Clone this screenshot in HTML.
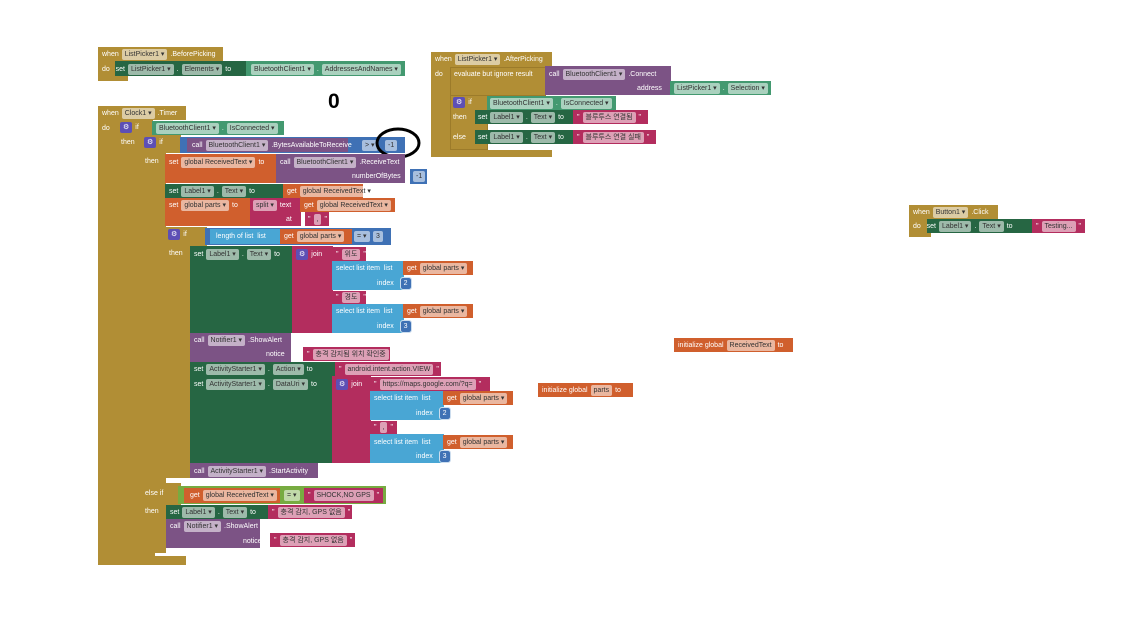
<!DOCTYPE html>
<html><head><meta charset="utf-8"><style>
body{margin:0;width:1146px;height:617px;background:#fff;position:relative;overflow:hidden;font-family:"Liberation Sans","Noto Sans CJK KR",sans-serif}
.r{position:absolute;box-sizing:border-box}
.t{position:absolute;display:flex;align-items:center;gap:3px;height:14px;font-size:7px;color:#fff;white-space:nowrap;font-family:"Liberation Sans","Noto Sans CJK KR",sans-serif}
.c{background:rgba(255,255,255,.55);color:#333;padding:1px 3px;border-radius:2px;line-height:9px}
.G{background:#b18e35}.S{background:#266643}.P{background:#439970}.O{background:#d05f2d}.U{background:#7c5385}.M{background:#b32d5e}.B{background:#49a6d4}.N{background:#3f71b5}.L{background:#77ab41}
</style></head><body>
<!-- BeforePicking -->
<div class="r G" style="left:98px;top:47px;width:125px;height:14px"></div>
<div class="r G" style="left:98px;top:61px;width:20px;height:20px"></div>
<div class="r G" style="left:98px;top:76px;width:30px;height:5px"></div>
<div class="t" style="left:102px;top:47px">when <span class="c">ListPicker1 ▾</span> .BeforePicking</div>
<div class="r S" style="left:115px;top:61px;width:131px;height:15px"></div>
<div class="r P" style="left:246px;top:61px;width:159px;height:15px"></div>
<div class="t" style="left:102px;top:62px">do&nbsp;&nbsp; set <span class="c">ListPicker1 ▾</span> . <span class="c">Elements ▾</span> to</div>
<div class="t" style="left:251px;top:62px"><span class="c">BluetoothClient1 ▾</span> . <span class="c">AddressesAndNames ▾</span></div>

<div class="r" style="left:328px;top:90px;font:bold 21px 'Liberation Sans',sans-serif">0</div>

<!-- Clock1.Timer -->
<div class="r G" style="left:98px;top:106px;width:88px;height:14px"></div>
<div class="r G" style="left:98px;top:120px;width:20px;height:445px"></div>
<div class="r G" style="left:98px;top:556px;width:88px;height:9px"></div>
<div class="t" style="left:102px;top:106px">when <span class="c">Clock1 ▾</span> .Timer</div>
<div class="t" style="left:102px;top:121px">do</div>
<!-- if1 -->
<div class="r G" style="left:117px;top:120px;width:36px;height:15px"></div>
<div class="r G" style="left:117px;top:135px;width:24px;height:422px"></div>
<div class="r G" style="left:117px;top:549px;width:38px;height:8px"></div>
<div class="t" style="left:120px;top:120px"><span class="c" style="background:#5d4fb5;color:#fff">⚙</span> if</div>
<div class="t" style="left:121px;top:135px">then</div>
<div class="r P" style="left:152px;top:121px;width:132px;height:14px"></div>
<div class="t" style="left:156px;top:121px"><span class="c">BluetoothClient1 ▾</span> . <span class="c">IsConnected ▾</span></div>
<!-- if2 -->
<div class="r G" style="left:141px;top:135px;width:40px;height:18px"></div>
<div class="r G" style="left:141px;top:153px;width:25px;height:400px"></div>
<div class="r G" style="left:141px;top:483px;width:40px;height:22px"></div>
<div class="r G" style="left:141px;top:545px;width:14px;height:8px"></div>
<div class="t" style="left:144px;top:135px"><span class="c" style="background:#5d4fb5;color:#fff">⚙</span> if</div>
<div class="t" style="left:145px;top:154px">then</div>
<div class="r N" style="left:180px;top:137px;width:225px;height:16px"></div>
<div class="r U" style="left:187px;top:138px;width:161px;height:14px"></div>
<div class="t" style="left:192px;top:138px">call <span class="c">BluetoothClient1 ▾</span> .BytesAvailableToReceive</div>
<div class="t" style="left:362px;top:138px"><span class="c">&gt; ▾</span></div>
<div class="t" style="left:385px;top:138px"><span class="c">-1</span></div>
<svg class="r" style="left:374px;top:126px" width="50" height="34"><ellipse cx="24" cy="17" rx="21" ry="14" fill="none" stroke="#000" stroke-width="3"/></svg>
<!-- set global ReceivedText -->
<div class="r O" style="left:165px;top:154px;width:112px;height:29px"></div>
<div class="r U" style="left:276px;top:154px;width:129px;height:29px"></div>
<div class="t" style="left:169px;top:155px">set <span class="c">global ReceivedText ▾</span> to</div>
<div class="t" style="left:280px;top:155px">call <span class="c">BluetoothClient1 ▾</span> .ReceiveText</div>
<div class="t" style="left:352px;top:169px">numberOfBytes</div>
<div class="r N" style="left:410px;top:169px;width:17px;height:15px"></div>
<div class="t" style="left:413px;top:169px"><span class="c">-1</span></div>
<!-- set Label1 -->
<div class="r S" style="left:165px;top:184px;width:118px;height:14px"></div>
<div class="r O" style="left:283px;top:184px;width:80px;height:14px"></div>
<div class="t" style="left:169px;top:184px">set <span class="c">Label1 ▾</span> . <span class="c">Text ▾</span> to</div>
<div class="t" style="left:287px;top:184px">get <span class="c">global ReceivedText ▾</span></div>
<!-- set global parts -->
<div class="r O" style="left:165px;top:198px;width:86px;height:28px"></div>
<div class="r M" style="left:250px;top:198px;width:51px;height:28px"></div>
<div class="r O" style="left:300px;top:198px;width:95px;height:14px"></div>
<div class="r M" style="left:305px;top:212px;width:24px;height:14px"></div>
<div class="t" style="left:169px;top:198px">set <span class="c">global parts ▾</span> to</div>
<div class="t" style="left:253px;top:198px"><span class="c">split ▾</span> text</div>
<div class="t" style="left:304px;top:198px">get <span class="c">global ReceivedText ▾</span></div>
<div class="t" style="left:286px;top:212px">at</div>
<div class="t" style="left:308px;top:212px">" <span class="c">,</span> "</div>
<!-- if3 -->
<div class="r G" style="left:165px;top:227px;width:42px;height:19px"></div>
<div class="r G" style="left:165px;top:246px;width:26px;height:232px"></div>
<div class="t" style="left:168px;top:227px"><span class="c" style="background:#5d4fb5;color:#fff">⚙</span> if</div>
<div class="t" style="left:169px;top:246px">then</div>
<div class="r N" style="left:205px;top:228px;width:186px;height:17px"></div>
<div class="r B" style="left:210px;top:229px;width:72px;height:15px"></div>
<div class="r O" style="left:280px;top:229px;width:72px;height:15px"></div>
<div class="t" style="left:216px;top:229px">length of list &nbsp;list</div>
<div class="t" style="left:284px;top:229px">get <span class="c">global parts ▾</span></div>
<div class="t" style="left:354px;top:229px"><span class="c">= ▾</span></div>
<div class="t" style="left:373px;top:229px"><span class="c">3</span></div>
<!-- set Label1 join -->
<div class="r S" style="left:190px;top:246px;width:103px;height:87px"></div>
<div class="r M" style="left:292px;top:246px;width:41px;height:87px"></div>
<div class="t" style="left:194px;top:247px">set <span class="c">Label1 ▾</span> . <span class="c">Text ▾</span> to</div>
<div class="t" style="left:296px;top:247px"><span class="c" style="background:#5d4fb5;color:#fff">⚙</span> join</div>
<div class="r M" style="left:332px;top:247px;width:34px;height:14px"></div>
<div class="t" style="left:336px;top:247px">" <span class="c">위도</span> "</div>
<div class="r B" style="left:332px;top:261px;width:72px;height:29px"></div>
<div class="r O" style="left:403px;top:261px;width:70px;height:14px"></div>
<div class="t" style="left:336px;top:261px">select list item &nbsp;list</div>
<div class="t" style="left:407px;top:261px">get <span class="c">global parts ▾</span></div>
<div class="t" style="left:377px;top:276px">index &nbsp;<span class="c" style="background:#3f71b5;color:#fff;outline:1px solid #cde">2</span></div>
<div class="r M" style="left:332px;top:291px;width:34px;height:13px"></div>
<div class="t" style="left:336px;top:290px">" <span class="c">경도</span> "</div>
<div class="r B" style="left:332px;top:304px;width:72px;height:29px"></div>
<div class="r O" style="left:403px;top:304px;width:70px;height:14px"></div>
<div class="t" style="left:336px;top:304px">select list item &nbsp;list</div>
<div class="t" style="left:407px;top:304px">get <span class="c">global parts ▾</span></div>
<div class="t" style="left:377px;top:319px">index &nbsp;<span class="c" style="background:#3f71b5;color:#fff;outline:1px solid #cde">3</span></div>
<!-- Notifier -->
<div class="r U" style="left:190px;top:333px;width:101px;height:29px"></div>
<div class="t" style="left:194px;top:333px">call <span class="c">Notifier1 ▾</span> .ShowAlert</div>
<div class="t" style="left:266px;top:347px">notice</div>
<div class="r M" style="left:303px;top:347px;width:87px;height:14px"></div>
<div class="t" style="left:307px;top:347px">" <span class="c">충격 감지됨 위치 확인중</span> "</div>
<!-- Action -->
<div class="r S" style="left:190px;top:362px;width:146px;height:14px"></div>
<div class="r M" style="left:335px;top:362px;width:106px;height:14px"></div>
<div class="t" style="left:194px;top:362px">set <span class="c">ActivityStarter1 ▾</span> . <span class="c">Action ▾</span> to</div>
<div class="t" style="left:339px;top:362px">" <span class="c">android.intent.action.VIEW</span> "</div>
<!-- DataUri -->
<div class="r S" style="left:190px;top:376px;width:143px;height:87px"></div>
<div class="r M" style="left:332px;top:376px;width:39px;height:87px"></div>
<div class="t" style="left:194px;top:377px">set <span class="c">ActivityStarter1 ▾</span> . <span class="c">DataUri ▾</span> to</div>
<div class="t" style="left:336px;top:377px"><span class="c" style="background:#5d4fb5;color:#fff">⚙</span> join</div>
<div class="r M" style="left:370px;top:377px;width:120px;height:14px"></div>
<div class="t" style="left:374px;top:377px">" <span class="c">https://maps.google.com/?q=</span> "</div>
<div class="r B" style="left:370px;top:391px;width:74px;height:29px"></div>
<div class="r O" style="left:443px;top:391px;width:70px;height:14px"></div>
<div class="t" style="left:374px;top:391px">select list item &nbsp;list</div>
<div class="t" style="left:447px;top:391px">get <span class="c">global parts ▾</span></div>
<div class="t" style="left:416px;top:406px">index &nbsp;<span class="c" style="background:#3f71b5;color:#fff;outline:1px solid #cde">2</span></div>
<div class="r M" style="left:370px;top:421px;width:27px;height:13px"></div>
<div class="t" style="left:374px;top:420px">" <span class="c">,</span> "</div>
<div class="r B" style="left:370px;top:434px;width:74px;height:29px"></div>
<div class="r O" style="left:443px;top:435px;width:70px;height:14px"></div>
<div class="t" style="left:374px;top:435px">select list item &nbsp;list</div>
<div class="t" style="left:447px;top:435px">get <span class="c">global parts ▾</span></div>
<div class="t" style="left:416px;top:449px">index &nbsp;<span class="c" style="background:#3f71b5;color:#fff;outline:1px solid #cde">3</span></div>
<div class="r U" style="left:190px;top:463px;width:128px;height:15px"></div>
<div class="t" style="left:194px;top:464px">call <span class="c">ActivityStarter1 ▾</span> .StartActivity</div>
<!-- else if -->
<div class="t" style="left:145px;top:486px">else if</div>
<div class="t" style="left:145px;top:504px">then</div>
<div class="r L" style="left:178px;top:486px;width:208px;height:18px"></div>
<div class="r O" style="left:184px;top:488px;width:96px;height:15px"></div>
<div class="r M" style="left:304px;top:488px;width:79px;height:15px"></div>
<div class="t" style="left:190px;top:488px">get <span class="c">global ReceivedText ▾</span></div>
<div class="t" style="left:284px;top:488px"><span class="c">= ▾</span></div>
<div class="t" style="left:308px;top:488px">" <span class="c">SHOCK,NO GPS</span> "</div>
<div class="r S" style="left:166px;top:505px;width:102px;height:14px"></div>
<div class="r M" style="left:268px;top:505px;width:84px;height:14px"></div>
<div class="t" style="left:170px;top:505px">set <span class="c">Label1 ▾</span> . <span class="c">Text ▾</span> to</div>
<div class="t" style="left:272px;top:505px">" <span class="c">충격 감지, GPS 없음</span> "</div>
<div class="r U" style="left:166px;top:519px;width:94px;height:29px"></div>
<div class="t" style="left:170px;top:519px">call <span class="c">Notifier1 ▾</span> .ShowAlert</div>
<div class="t" style="left:243px;top:534px">notice</div>
<div class="r M" style="left:270px;top:533px;width:85px;height:14px"></div>
<div class="t" style="left:274px;top:533px">" <span class="c">충격 감지, GPS 없음</span> "</div>

<!-- AfterPicking -->
<div class="r G" style="left:431px;top:52px;width:121px;height:15px"></div>
<div class="r G" style="left:431px;top:67px;width:20px;height:90px"></div>
<div class="r G" style="left:431px;top:150px;width:121px;height:7px"></div>
<div class="t" style="left:435px;top:52px">when <span class="c">ListPicker1 ▾</span> .AfterPicking</div>
<div class="t" style="left:435px;top:67px">do</div>
<div class="r G" style="left:450px;top:67px;width:96px;height:29px;border:1px solid #9c7b2a"></div>
<div class="t" style="left:454px;top:67px">evaluate but ignore result</div>
<div class="r U" style="left:545px;top:66px;width:126px;height:29px"></div>
<div class="t" style="left:549px;top:67px">call <span class="c">BluetoothClient1 ▾</span> .Connect</div>
<div class="t" style="left:637px;top:81px">address</div>
<div class="r P" style="left:670px;top:81px;width:101px;height:14px"></div>
<div class="t" style="left:674px;top:81px"><span class="c">ListPicker1 ▾</span> . <span class="c">Selection ▾</span></div>
<div class="r G" style="left:450px;top:95px;width:38px;height:55px;border:1px solid #9c7b2a"></div>
<div class="t" style="left:453px;top:95px"><span class="c" style="background:#5d4fb5;color:#fff">⚙</span> if</div>
<div class="t" style="left:453px;top:110px">then</div>
<div class="t" style="left:453px;top:130px">else</div>
<div class="r P" style="left:487px;top:96px;width:129px;height:14px"></div>
<div class="t" style="left:490px;top:96px"><span class="c">BluetoothClient1 ▾</span> . <span class="c">IsConnected ▾</span></div>
<div class="r S" style="left:475px;top:110px;width:98px;height:14px"></div>
<div class="r M" style="left:573px;top:110px;width:75px;height:14px"></div>
<div class="t" style="left:478px;top:110px">set <span class="c">Label1 ▾</span> . <span class="c">Text ▾</span> to</div>
<div class="t" style="left:577px;top:110px">" <span class="c">블루투스 연결됨</span> "</div>
<div class="r S" style="left:475px;top:130px;width:98px;height:14px"></div>
<div class="r M" style="left:573px;top:130px;width:83px;height:14px"></div>
<div class="t" style="left:478px;top:130px">set <span class="c">Label1 ▾</span> . <span class="c">Text ▾</span> to</div>
<div class="t" style="left:577px;top:130px">" <span class="c">블루투스 연결 실패</span> "</div>

<!-- Button1.Click -->
<div class="r G" style="left:909px;top:205px;width:89px;height:14px"></div>
<div class="r G" style="left:909px;top:219px;width:22px;height:18px"></div>
<div class="t" style="left:913px;top:205px">when <span class="c">Button1 ▾</span> .Click</div>
<div class="r S" style="left:927px;top:219px;width:105px;height:14px"></div>
<div class="r M" style="left:1032px;top:219px;width:53px;height:14px"></div>
<div class="t" style="left:913px;top:219px">do &nbsp; set <span class="c">Label1 ▾</span> . <span class="c">Text ▾</span> to</div>
<div class="t" style="left:1036px;top:219px">" <span class="c">Testing...</span> "</div>

<!-- init globals -->
<div class="r O" style="left:674px;top:338px;width:119px;height:14px"></div>
<div class="t" style="left:678px;top:338px">initialize global <span class="c">ReceivedText</span> to</div>
<div class="r O" style="left:538px;top:383px;width:95px;height:14px"></div>
<div class="t" style="left:542px;top:383px">initialize global <span class="c">parts</span> to</div>
</body></html>
